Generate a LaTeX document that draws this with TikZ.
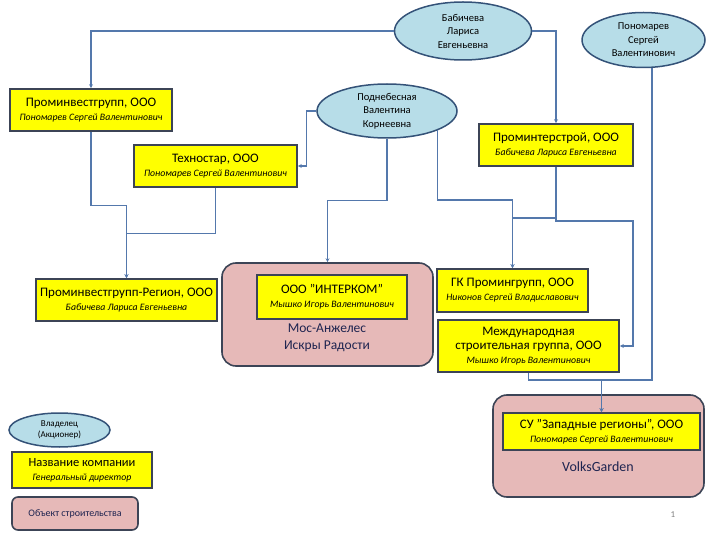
\documentclass[tikz,border=0pt]{standalone}
\usepackage{fontspec}
\setmainfont{Carlito}
\usepackage{tikz}
\usepackage{xcolor}
\usetikzlibrary{shapes,arrows.meta,positioning,calc}
\definecolor{lineBlue}{RGB}{84,120,172}
\definecolor{edgeGray}{RGB}{60,68,86}
\definecolor{ovalEdge}{RGB}{52,82,120}
\definecolor{ovalBlue}{RGB}{183,221,232}
\definecolor{siteRose}{RGB}{230,185,184}
\definecolor{boxYellow}{RGB}{255,255,0}
\definecolor{siteInk}{RGB}{30,36,80}
\newcommand{\gendir}[1]{{\fontsize{9.8}{11}\selectfont\itshape #1}}

\begin{document}
\begin{tikzpicture}[x=1pt,y=-1pt,
    owner/.style={ellipse, draw=ovalEdge, line width=1.5pt, fill=ovalBlue, inner sep=0pt, align=center, font=\fontsize{10.5}{13.5}\selectfont},
    firm/.style={rectangle, draw=edgeGray, line width=1.6pt, fill=boxYellow, inner sep=0pt, align=center, font=\fontsize{13}{14}\selectfont},
    site/.style={rectangle, rounded corners=14pt, draw=edgeGray, line width=1.6pt, fill=siteRose},
    link/.style={lineBlue, line width=1.2pt, -{Stealth[length=4pt,width=4pt]}}]
    \useasboundingbox (0,0) rectangle (720,540);

    \node[site, minimum width=211, minimum height=103] (mosang) at (327.5,314.5) {};
    \node[site, minimum width=211, minimum height=102] (volks) at (598.5,446) {};
    \node[font=\fontsize{13.5}{16.5}\selectfont, text=siteInk, align=center] (mosangtxt) at (327,338) {Мос-Анжелес\\Искры Радости};
    \node[font=\fontsize{14}{15}\selectfont, text=siteInk] (volkstxt) at (598,467) {VolksGarden};

    \node[owner, minimum width=137, minimum height=58] (babich) at (463,31) {Бабичева\\Лариса\\Евгеньевна};
    \node[owner, minimum width=123, minimum height=55] (ponom) at (643.5,40) {Пономарев\\Сергей\\Валентинович};
    \node[owner, minimum width=140, minimum height=54] (podneb) at (387,111) {Поднебесная\\Валентина\\Корнеевна};

    \node[firm, minimum width=162, minimum height=42] (prominv) at (91,110) {Проминвестгрупп, ООО\\\gendir{Пономарев Сергей Валентинович}};
    \node[firm, minimum width=163, minimum height=42] (tekhno) at (215.5,166) {Техностар, ООО\\\gendir{Пономарев Сергей Валентинович}};
    \node[firm, minimum width=154, minimum height=42] (promint) at (556,145) {Проминтерстрой, ООО\\\gendir{Бабичева Лариса Евгеньевна}};
    \node[firm, minimum width=181, minimum height=42] (region) at (126.5,300) {Проминвестгрупп-Регион, ООО\\\gendir{Бабичева Лариса Евгеньевна}};
    \node[firm, minimum width=150, minimum height=44] (interkom) at (332,297) {ООО "ИНТЕРКОМ”\\\gendir{Мышко Игорь Валентинович}};
    \node[firm, minimum width=151, minimum height=43] (gkprom) at (512.5,290.5) {ГК Промингрупп, ООО\\\gendir{Никонов Сергей Владиславович}};
    \node[firm, minimum width=181, minimum height=52] (mezhd) at (528.5,346) {Международная\\строительная группа, ООО\\\gendir{Мышко Игорь Валентинович}};
    \node[firm, minimum width=197, minimum height=37] (suzap) at (601.5,431.5) {СУ "Западные регионы", ООО\\\gendir{Пономарев Сергей Валентинович}};

    \node[owner, minimum width=101, minimum height=34, font=\fontsize{9}{11}\selectfont] (lgowner) at (59.5,430) {Владелец\\(Акционер)};
    \node[firm, minimum width=140, minimum height=36, font=\fontsize{12.5}{14}\selectfont] (lgfirm) at (82,470) {Название компании\\\gendir{Генеральный директор}};
    \node[site, rounded corners=6pt, minimum width=126, minimum height=33, font=\fontsize{10}{11}\selectfont, text=siteInk] (lgsite) at (75,513.5) {Объект строительства};
    \node[font=\fontsize{9}{10}\selectfont, text=gray] (pgnum) at (673,515) {1};

    \coordinate (jsu) at (601.5,380);
    \coordinate (jgk) at (512.5,200);
    \coordinate (jgk2) at (512.5,218);
    \coordinate (jmz) at (633,221);

    \draw[link] (babich.west) -| (prominv.north);
    \draw[link] (babich.east) -| (promint.north);
    \draw[link] (ponom.-73) |- (jsu) -- (suzap.north);
    \draw[link] (mezhd.south) |- (jsu) -- (suzap.north);
    \draw[link] (podneb.west) -- ++(-10,0) |- (tekhno.east);
    \draw[link] (podneb.south) -- ++(0,62) -| (mosang.north);
    \draw[link] (podneb.-21) |- (jgk) -- (gkprom.north);
    \draw[link] (promint.south) |- (jgk2) -- (gkprom.north);
    \draw[link] (promint.south) |- (jmz) |- (mezhd.east);
    \draw[link] (prominv.south) -- ++(0,74) -| (region.north);
    \draw[link] (tekhno.south) -- ++(0,46) -| (region.north);
\end{tikzpicture}
\end{document}
